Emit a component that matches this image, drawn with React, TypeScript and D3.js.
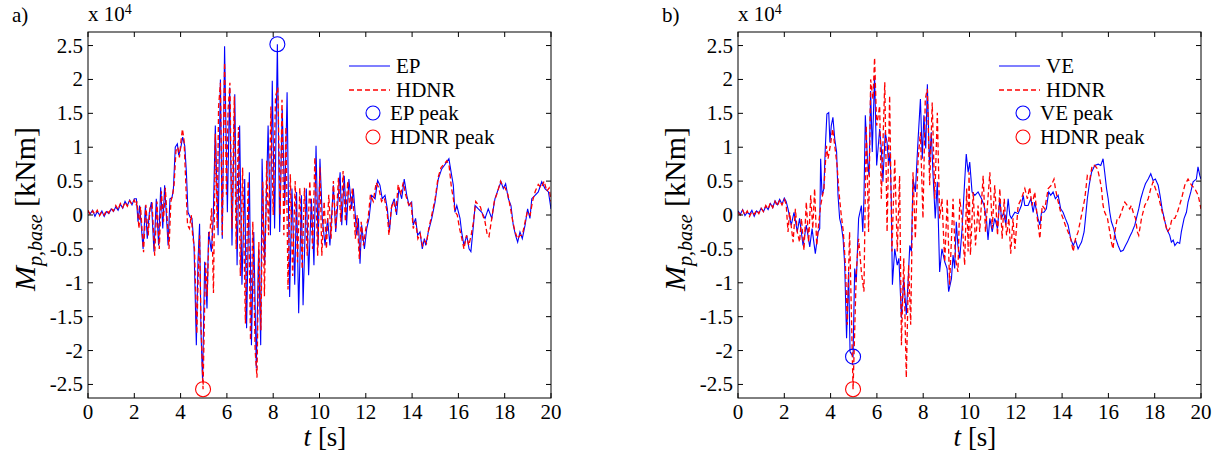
import React from "react";
import * as d3 from "d3";

type Pt = [number, number];

const xTicks = [0, 2, 4, 6, 8, 10, 12, 14, 16, 18, 20];
const yTicks = [-2.5, -2, -1.5, -1, -0.5, 0, 0.5, 1, 1.5, 2, 2.5];

// Panel a) EP (blue, solid) — values in 10^4 kNm, time in s
const epSeries: Pt[] = [
  [0,0.05],[0.1,0.02],[0.2,0.07],[0.3,-0.02],[0.4,0.05],[0.5,0.0],[0.6,0.06],[0.7,-0.02],[0.8,0.05],[0.9,0.02],
  [1.0,0.09],[1.1,0.05],[1.2,0.12],[1.3,0.07],[1.4,0.16],[1.5,0.1],[1.6,0.2],[1.7,0.14],[1.8,0.22],[1.9,0.15],
  [2.0,0.24],[2.09,0.24],[2.16,-0.1],[2.23,0.14],[2.38,-0.5],[2.48,0.14],[2.56,-0.35],[2.65,0.04],[2.74,0.19],[2.85,-0.54],
  [2.95,0.24],[3.05,-0.45],[3.14,0.41],[3.23,-0.2],[3.31,0.44],[3.46,-0.45],[3.54,0.24],[3.63,0.26],[3.69,0.39],[3.77,1.0],
  [3.86,1.05],[3.92,0.88],[4.0,0.98],[4.09,1.15],[4.18,1.02],[4.25,0.63],[4.32,0.04],[4.41,-0.03],[4.49,-0.05],[4.58,-0.45],
  [4.68,-1.92],[4.75,-0.69],[4.82,-0.13],[4.88,-1.72],[4.95,-2.45],[5.04,-0.69],[5.14,-1.38],[5.21,-0.25],[5.33,-0.54],[5.41,-0.05],
  [5.5,1.32],[5.62,-0.3],[5.72,2.0],[5.8,-0.35],[5.9,2.49],[6.02,0.04],[6.12,1.88],[6.22,-0.45],[6.34,1.78],[6.44,-0.74],
  [6.55,1.32],[6.65,-1.03],[6.77,0.53],[6.85,-1.67],[6.97,0.63],[7.06,-1.92],[7.16,-0.25],[7.27,-2.26],[7.37,-0.5],[7.46,-1.92],
  [7.52,0.83],[7.63,-0.74],[7.78,1.32],[7.88,-0.3],[7.96,1.98],[8.06,-0.2],[8.18,2.52],[8.28,-0.25],[8.39,1.56],[8.5,0.14],
  [8.6,1.81],[8.71,-1.21],[8.81,0.39],[8.93,-1.03],[9.01,0.34],[9.1,-1.45],[9.22,0.29],[9.29,-1.33],[9.43,0.39],[9.53,-0.89],
  [9.65,0.24],[9.76,-0.74],[9.85,1.02],[9.94,-0.45],[10.02,0.83],[10.12,-0.05],[10.24,-0.45],[10.35,-0.05],[10.45,-0.45],[10.6,0.44],
  [10.7,-0.25],[10.89,0.63],[10.96,-0.15],[11.07,0.58],[11.17,-0.15],[11.27,0.53],[11.39,0.09],[11.46,0.39],[11.61,-0.3],[11.68,-0.05],
  [11.75,-0.72],[11.82,-0.15],[11.94,-0.5],[12.04,-0.2],[12.14,-0.05],[12.25,0.29],[12.4,0.24],[12.51,0.51],[12.61,0.44],[12.71,0.24],
  [12.83,0.29],[12.93,0.09],[13.02,-0.25],[13.12,0.14],[13.23,0.24],[13.33,0.0],[13.43,0.39],[13.55,0.24],[13.66,0.53],[13.77,0.29],
  [13.87,0.14],[13.98,0.19],[14.05,-0.15],[14.15,-0.05],[14.24,-0.3],[14.34,-0.25],[14.44,-0.5],[14.53,-0.35],[14.59,-0.45],[14.7,-0.25],
  [14.85,-0.05],[14.99,0.19],[15.13,0.53],[15.28,0.68],[15.39,0.73],[15.49,0.78],[15.59,0.83],[15.71,0.58],[15.78,0.44],[15.85,0.04],
  [15.93,0.14],[16.07,-0.05],[16.14,-0.25],[16.24,-0.45],[16.36,-0.3],[16.46,-0.5],[16.54,-0.54],[16.65,-0.15],[16.72,0.14],[16.86,0.09],
  [17.01,0.04],[17.15,-0.05],[17.29,0.09],[17.44,-0.05],[17.58,0.24],[17.73,0.39],[17.84,0.49],[17.94,0.39],[18.04,0.46],[18.16,0.24],
  [18.27,0.14],[18.37,-0.15],[18.47,-0.3],[18.56,-0.4],[18.66,-0.25],[18.76,-0.35],[18.88,-0.15],[18.99,0.09],[19.09,-0.05],[19.17,0.24],
  [19.31,0.29],[19.45,0.34],[19.6,0.49],[19.74,0.39],[19.89,0.34],[20.0,0.09],
];

// Panel a) HDNR (red, dashed)
const hdnrSeriesA: Pt[] = [
  [0,0.07],[0.1,0.0],[0.2,0.06],[0.3,0.01],[0.4,0.07],[0.5,-0.01],[0.6,0.05],[0.7,0.0],[0.8,0.07],[0.9,0.03],
  [1.0,0.1],[1.1,0.06],[1.2,0.14],[1.3,0.08],[1.4,0.17],[1.5,0.11],[1.6,0.19],[1.7,0.13],[1.8,0.21],[1.9,0.16],
  [2.0,0.22],[2.08,0.14],[2.12,0.2],[2.2,-0.2],[2.27,0.12],[2.4,-0.55],[2.5,0.15],[2.6,-0.3],[2.68,0.1],[2.77,0.16],
  [2.88,-0.6],[2.98,0.2],[3.08,-0.5],[3.17,0.35],[3.26,-0.1],[3.34,0.4],[3.5,-0.5],[3.58,0.2],[3.66,0.3],[3.72,0.45],
  [3.8,0.95],[3.88,1.0],[3.95,0.85],[4.02,1.1],[4.08,1.27],[4.15,1.1],[4.22,0.5],[4.3,-0.15],[4.38,-0.2],[4.46,0.0],
  [4.52,-0.3],[4.6,-0.5],[4.7,-1.75],[4.77,-0.8],[4.82,-0.3],[4.88,-1.6],[4.97,-2.57],[5.04,-1.3],[5.08,-0.7],[5.15,-1.2],
  [5.22,-0.3],[5.28,-0.2],[5.34,0.1],[5.42,-1.15],[5.5,1.2],[5.58,-0.2],[5.64,1.6],[5.72,1.95],[5.8,-0.3],[5.9,2.25],
  [5.98,0.3],[6.05,1.55],[6.13,1.95],[6.22,-0.2],[6.32,1.75],[6.4,-0.5],[6.5,1.3],[6.58,-0.9],[6.68,0.7],[6.8,-1.6],
  [6.92,0.5],[7.02,-1.85],[7.12,-0.1],[7.22,-2.0],[7.3,-2.4],[7.38,-0.4],[7.47,-1.7],[7.55,0.5],[7.62,-1.2],[7.72,0.8],
  [7.8,-0.3],[7.9,1.6],[8.0,0.0],[8.1,1.75],[8.2,1.88],[8.3,0.0],[8.38,1.7],[8.46,-0.3],[8.55,1.3],[8.64,-1.1],
  [8.74,0.6],[8.84,-0.9],[8.95,0.5],[9.05,-0.7],[9.15,0.4],[9.25,-0.8],[9.35,0.4],[9.47,-0.6],[9.58,0.5],[9.7,-0.5],
  [9.8,0.85],[9.92,-0.6],[10.02,0.7],[10.1,-0.6],[10.2,0.2],[10.3,-0.5],[10.4,0.3],[10.5,-0.35],[10.6,0.5],[10.7,-0.2],
  [10.82,0.55],[10.92,-0.1],[11.02,0.65],[11.12,-0.1],[11.22,0.5],[11.32,0.05],[11.42,0.4],[11.55,-0.35],[11.62,0.0],[11.72,-0.65],
  [11.8,-0.1],[11.9,-0.45],[12.0,-0.2],[12.1,-0.05],[12.2,0.3],[12.32,0.2],[12.45,0.48],[12.56,0.4],[12.68,0.2],[12.8,0.25],
  [12.92,0.05],[13.0,-0.3],[13.1,0.1],[13.2,0.2],[13.3,0.05],[13.4,0.45],[13.5,0.3],[13.62,0.48],[13.72,0.3],[13.85,0.15],
  [13.95,0.2],[14.05,-0.2],[14.15,-0.1],[14.25,-0.35],[14.35,-0.28],[14.45,-0.45],[14.55,-0.38],[14.62,-0.42],[14.72,-0.2],[14.85,0.0],
  [15.0,0.25],[15.12,0.55],[15.25,0.7],[15.38,0.75],[15.5,0.8],[15.6,0.72],[15.7,0.4],[15.78,0.25],[15.85,0.05],[15.95,0.0],
  [16.05,-0.2],[16.15,-0.35],[16.24,-0.5],[16.35,-0.3],[16.45,-0.45],[16.55,-0.3],[16.65,-0.1],[16.75,0.2],[16.85,0.15],[16.95,0.12],
  [17.05,0.0],[17.15,-0.1],[17.25,-0.3],[17.32,-0.32],[17.42,-0.1],[17.55,0.2],[17.7,0.35],[17.82,0.5],[17.92,0.42],[18.02,0.4],
  [18.14,0.3],[18.25,0.1],[18.35,-0.1],[18.45,-0.25],[18.56,-0.35],[18.66,-0.3],[18.76,-0.3],[18.88,-0.1],[18.98,0.05],[19.1,0.0],
  [19.2,0.2],[19.32,0.35],[19.45,0.45],[19.58,0.4],[19.7,0.5],[19.82,0.35],[19.92,0.4],[20.0,0.2],
];

// Panel b) VE (blue, solid)
const veSeries: Pt[] = [
  [0,0.06],[0.1,0.01],[0.2,0.08],[0.3,-0.01],[0.4,0.04],[0.5,0.01],[0.6,0.07],[0.7,-0.02],[0.8,0.06],[0.9,0.03],
  [1.0,0.1],[1.1,0.05],[1.2,0.13],[1.3,0.08],[1.4,0.17],[1.5,0.11],[1.6,0.21],[1.7,0.15],[1.8,0.23],[1.9,0.16],
  [2.0,0.25],[2.08,0.2],[2.16,0.09],[2.3,-0.15],[2.42,0.04],[2.56,-0.25],[2.66,-0.05],[2.81,-0.45],[2.95,-0.15],[3.1,-0.47],
  [3.2,-0.2],[3.34,-0.57],[3.46,-0.25],[3.53,-0.2],[3.57,0.83],[3.63,0.29],[3.71,0.39],[3.77,0.98],[3.84,1.49],[3.92,1.51],
  [3.97,1.07],[4.03,1.32],[4.1,1.44],[4.18,1.12],[4.26,0.93],[4.32,0.29],[4.39,-0.05],[4.46,-0.15],[4.54,-0.35],[4.61,-0.74],
  [4.69,-1.82],[4.78,-0.84],[4.84,-2.02],[4.97,-2.09],[5.04,-0.79],[5.11,-0.99],[5.21,-0.05],[5.33,0.14],[5.39,-0.25],[5.44,0.24],
  [5.5,1.47],[5.59,0.83],[5.66,0.58],[5.73,1.83],[5.8,0.93],[5.9,2.05],[5.99,0.73],[6.12,1.27],[6.19,0.98],[6.26,0.49],
  [6.36,1.22],[6.44,1.07],[6.51,0.73],[6.57,0.93],[6.62,0.24],[6.67,-1.03],[6.77,-0.5],[6.88,-0.74],[6.95,-0.64],[7.06,-1.52],
  [7.16,-0.94],[7.27,-1.47],[7.34,-1.03],[7.42,-0.45],[7.49,-0.54],[7.56,0.53],[7.66,0.34],[7.78,1.12],[7.88,1.71],[7.96,0.83],
  [8.03,1.47],[8.11,0.98],[8.18,1.93],[8.27,0.73],[8.35,1.22],[8.42,0.63],[8.52,-0.05],[8.61,0.49],[8.71,-0.84],[8.81,-0.5],
  [8.93,-0.69],[9.03,-0.79],[9.1,-1.13],[9.22,-0.94],[9.29,-0.59],[9.36,-0.79],[9.43,-0.1],[9.5,-0.45],[9.58,-0.64],[9.68,-0.2],
  [9.79,0.49],[9.86,0.9],[9.94,0.63],[10.01,0.78],[10.11,0.34],[10.23,0.29],[10.37,0.34],[10.52,0.24],[10.63,0.14],[10.73,-0.05],
  [10.8,-0.37],[10.88,-0.05],[10.98,-0.25],[11.09,-0.05],[11.21,-0.2],[11.31,0.24],[11.38,-0.05],[11.48,0.04],[11.57,-0.15],[11.67,0.24],
  [11.74,0.0],[11.81,-0.05],[11.96,0.04],[12.1,0.02],[12.24,0.14],[12.32,0.29],[12.39,0.14],[12.53,0.14],[12.65,0.24],[12.75,0.04],
  [12.82,0.19],[12.96,-0.05],[13.04,-0.15],[13.11,0.04],[13.22,0.04],[13.32,0.09],[13.42,0.34],[13.51,0.29],[13.61,0.34],[13.71,0.24],
  [13.83,0.29],[13.94,0.09],[14.04,0.04],[14.14,-0.05],[14.26,-0.15],[14.37,-0.35],[14.48,-0.45],[14.58,-0.37],[14.69,-0.5],[14.76,-0.45],
  [14.84,-0.4],[14.95,-0.25],[15.01,-0.05],[15.09,0.24],[15.17,0.44],[15.27,0.63],[15.41,0.73],[15.56,0.75],[15.67,0.73],[15.77,0.83],
  [15.84,0.63],[15.92,0.39],[15.99,0.24],[16.06,0.04],[16.13,-0.1],[16.23,-0.2],[16.32,-0.35],[16.42,-0.45],[16.53,-0.54],[16.64,-0.52],
  [16.74,-0.45],[16.82,-0.4],[16.92,-0.32],[17.02,-0.25],[17.14,-0.15],[17.21,-0.05],[17.31,0.09],[17.4,0.24],[17.5,0.36],[17.6,0.46],
  [17.72,0.53],[17.83,0.61],[17.93,0.51],[18.03,0.53],[18.15,0.44],[18.23,0.29],[18.32,0.09],[18.41,-0.05],[18.51,-0.2],[18.65,-0.3],
  [18.72,-0.4],[18.8,-0.37],[18.87,-0.45],[18.98,-0.4],[19.08,-0.42],[19.15,-0.25],[19.27,-0.05],[19.37,0.04],[19.44,0.19],[19.56,0.34],
  [19.66,0.49],[19.8,0.53],[19.87,0.71],[19.95,0.58],[20.0,0.53],
];

// Panel b) HDNR (red, dashed)
const hdnrSeriesB: Pt[] = [
  [0,0.04],[0.1,0.0],[0.2,0.07],[0.3,0.0],[0.4,0.06],[0.5,-0.02],[0.6,0.05],[0.7,0.01],[0.8,0.07],[0.9,0.02],
  [1.0,0.1],[1.1,0.05],[1.2,0.14],[1.3,0.09],[1.4,0.18],[1.5,0.11],[1.6,0.2],[1.7,0.13],[1.8,0.22],[1.9,0.15],
  [2.0,0.23],[2.08,0.16],[2.16,-0.25],[2.23,0.04],[2.38,-0.4],[2.48,0.09],[2.56,-0.25],[2.66,-0.4],[2.74,-0.05],[2.85,-0.52],
  [2.95,0.19],[3.05,-0.4],[3.14,0.29],[3.23,-0.2],[3.31,0.39],[3.4,-0.45],[3.48,-0.15],[3.57,0.14],[3.71,0.39],[3.82,1.02],
  [3.89,0.83],[4.0,1.05],[4.09,1.27],[4.18,1.02],[4.28,0.73],[4.36,0.34],[4.46,0.0],[4.55,-0.25],[4.64,-0.74],[4.72,-1.62],
  [4.82,-0.25],[4.97,-2.57],[5.04,-1.72],[5.11,-0.84],[5.21,-0.35],[5.33,-0.84],[5.44,-1.13],[5.54,1.32],[5.64,-0.25],[5.73,2.0],
  [5.83,1.71],[5.9,2.32],[5.99,1.32],[6.12,1.61],[6.19,0.24],[6.34,1.96],[6.44,-0.25],[6.55,1.76],[6.65,-0.54],[6.77,0.83],
  [6.88,-0.54],[6.98,0.58],[7.06,-1.92],[7.16,-0.64],[7.27,-2.4],[7.37,-0.74],[7.46,-1.62],[7.56,0.63],[7.66,-0.35],[7.78,0.83],
  [7.88,1.22],[7.99,-0.05],[8.09,1.71],[8.18,1.86],[8.28,0.44],[8.39,1.66],[8.5,0.24],[8.61,1.51],[8.71,-0.05],[8.81,0.24],
  [8.93,-0.69],[9.04,0.24],[9.14,-1.03],[9.29,0.24],[9.39,-0.64],[9.5,-0.84],[9.58,0.24],[9.68,-0.05],[9.79,-0.74],[9.88,0.39],
  [9.94,-0.54],[9.98,0.63],[10.04,-0.59],[10.16,0.34],[10.26,-0.45],[10.37,0.14],[10.44,-0.25],[10.59,0.58],[10.69,-0.25],[10.88,0.63],
  [10.98,-0.2],[11.09,0.44],[11.21,-0.3],[11.31,0.39],[11.41,-0.35],[11.5,0.24],[11.6,-0.3],[11.7,-0.05],[11.78,-0.57],[11.88,-0.05],
  [11.96,-0.5],[12.1,0.14],[12.24,0.24],[12.39,0.39],[12.5,0.24],[12.6,0.41],[12.7,0.14],[12.82,0.34],[12.93,-0.05],[13.04,-0.35],
  [13.14,0.14],[13.25,0.09],[13.4,0.39],[13.54,0.44],[13.65,0.53],[13.71,0.39],[13.8,0.24],[13.94,0.04],[14.04,-0.05],[14.14,-0.15],
  [14.26,-0.25],[14.37,-0.35],[14.48,-0.54],[14.58,-0.35],[14.69,-0.25],[14.84,0.0],[14.98,0.24],[15.09,0.58],[15.2,0.53],[15.3,0.73],
  [15.41,0.73],[15.53,0.68],[15.63,0.53],[15.7,0.39],[15.77,0.14],[15.84,0.04],[15.96,-0.05],[16.06,-0.25],[16.13,-0.4],[16.2,-0.5],
  [16.28,-0.25],[16.38,-0.05],[16.46,-0.05],[16.56,0.04],[16.71,0.19],[16.82,0.14],[16.92,0.09],[16.99,0.14],[17.07,0.04],[17.17,-0.05],
  [17.25,-0.25],[17.31,-0.3],[17.43,-0.05],[17.57,0.14],[17.72,0.24],[17.83,0.39],[17.93,0.49],[18.03,0.39],[18.15,0.29],[18.29,0.09],
  [18.44,-0.1],[18.55,-0.25],[18.65,-0.2],[18.75,-0.05],[18.87,-0.05],[18.98,0.04],[19.16,0.24],[19.3,0.44],[19.44,0.53],[19.59,0.44],
  [19.73,0.39],[19.88,0.29],[20.0,0.09],
];

const epPeak: Pt = [8.18, 2.52];
const hdnrPeakA: Pt = [4.97, -2.57];
const vePeak: Pt = [4.97, -2.09];
const hdnrPeakB: Pt = [4.97, -2.57];

const FONT = '"Liberation Serif", "DejaVu Serif", serif';

interface PanelCfg {
  tag: string;
  name: string;
  blue: Pt[];
  red: Pt[];
  bluePeak: Pt;
  redPeak: Pt;
  left: number;
}

const panels: PanelCfg[] = [
  { tag: "a)", name: "EP", blue: epSeries, red: hdnrSeriesA, bluePeak: epPeak, redPeak: hdnrPeakA, left: 88 },
  { tag: "b)", name: "VE", blue: veSeries, red: hdnrSeriesB, bluePeak: vePeak, redPeak: hdnrPeakB, left: 738 },
];

function Panel({ p }: { p: PanelCfg }) {
  const W = 463;
  const top = 32;
  const bottom = 398;
  const right = p.left + W;
  const ox = p.left - 88;
  const x = d3.scaleLinear().domain([0, 20]).range([p.left, right]);
  const y = d3.scaleLinear().domain([-2.7, 2.7]).range([bottom, top]);
  const line = d3.line<Pt>().x((d) => x(d[0])).y((d) => y(d[1]));
  const tl = 5;
  const clipId = `clip-${p.tag[0]}`;
  const ts = { fontFamily: FONT };
  return (
    <g style={ts} fill="#000">
      <defs>
        <clipPath id={clipId}>
          <rect x={p.left} y={top} width={W} height={bottom - top} />
        </clipPath>
      </defs>
      <g clipPath={`url(#${clipId})`}>
        <path d={line(p.blue) || ""} fill="none" stroke="#0000ff" strokeWidth={1.1} />
        <path d={line(p.red) || ""} fill="none" stroke="#ff0000" strokeWidth={1.3} strokeDasharray="5,3" />
      </g>
      <circle cx={x(p.bluePeak[0])} cy={y(p.bluePeak[1])} r={7.5} fill="none" stroke="#0000ff" strokeWidth={1.1} />
      <circle cx={x(p.redPeak[0])} cy={y(p.redPeak[1])} r={7.5} fill="none" stroke="#ff0000" strokeWidth={1.1} />
      <rect x={p.left} y={top} width={W} height={bottom - top} fill="none" stroke="#000" strokeWidth={1} />
      {xTicks.map((t) => (
        <g key={`xt${t}`}>
          <line x1={x(t)} x2={x(t)} y1={bottom} y2={bottom - tl} stroke="#000" />
          <line x1={x(t)} x2={x(t)} y1={top} y2={top + tl} stroke="#000" />
          <text x={x(t)} y={419} fontSize={21} textAnchor="middle" style={ts}>{String(t)}</text>
        </g>
      ))}
      {yTicks.map((v) => (
        <g key={`yt${v}`}>
          <line x1={p.left} x2={p.left + tl} y1={y(v)} y2={y(v)} stroke="#000" />
          <line x1={right} x2={right - tl} y1={y(v)} y2={y(v)} stroke="#000" />
          <text x={p.left - 5} y={y(v) + 7} fontSize={21} textAnchor="end" style={ts}>{String(v)}</text>
        </g>
      ))}
      <text x={ox + 88} y={21} fontSize={21} style={ts}>
        x 10<tspan dy={-7} fontSize={14}>4</tspan>
      </text>
      <text x={ox + 12} y={22} fontSize={21} style={ts}>{p.tag}</text>
      <text x={ox + 325} y={446} fontSize={27} textAnchor="middle" style={ts}>
        <tspan fontStyle="italic">t</tspan> [s]
      </text>
      <text transform={`translate(${ox + 35},209) rotate(-90)`} fontSize={30} textAnchor="middle" style={ts}>
        <tspan fontStyle="italic">M</tspan>
        <tspan fontStyle="italic" fontSize={20} dy={7}>p,base</tspan>
        <tspan dy={-7}> [kNm]</tspan>
      </text>
      <line x1={ox + 349} x2={ox + 390} y1={66} y2={66} stroke="#0000ff" strokeWidth={1.1} />
      <text x={ox + 396} y={73} fontSize={21} style={ts}>{p.name}</text>
      <line x1={ox + 349} x2={ox + 390} y1={90} y2={90} stroke="#ff0000" strokeWidth={1.3} strokeDasharray="5,3" />
      <text x={ox + 396} y={97} fontSize={21} style={ts}>HDNR</text>
      <circle cx={ox + 373} cy={113} r={7} fill="none" stroke="#0000ff" strokeWidth={1.1} />
      <text x={ox + 390} y={120} fontSize={21} style={ts}>{p.name} peak</text>
      <circle cx={ox + 373} cy={137} r={7} fill="none" stroke="#ff0000" strokeWidth={1.1} />
      <text x={ox + 390} y={144} fontSize={21} style={ts}>HDNR peak</text>
    </g>
  );
}

export default function App() {
  return (
    <svg
      width={1223}
      height={452}
      viewBox="0 0 1223 452"
      style={{ position: "absolute", left: 0, top: 0, background: "#fff" }}
    >
      <rect width={1223} height={452} fill="#fff" />
      {panels.map((p) => (
        <Panel key={p.tag} p={p} />
      ))}
    </svg>
  );
}
